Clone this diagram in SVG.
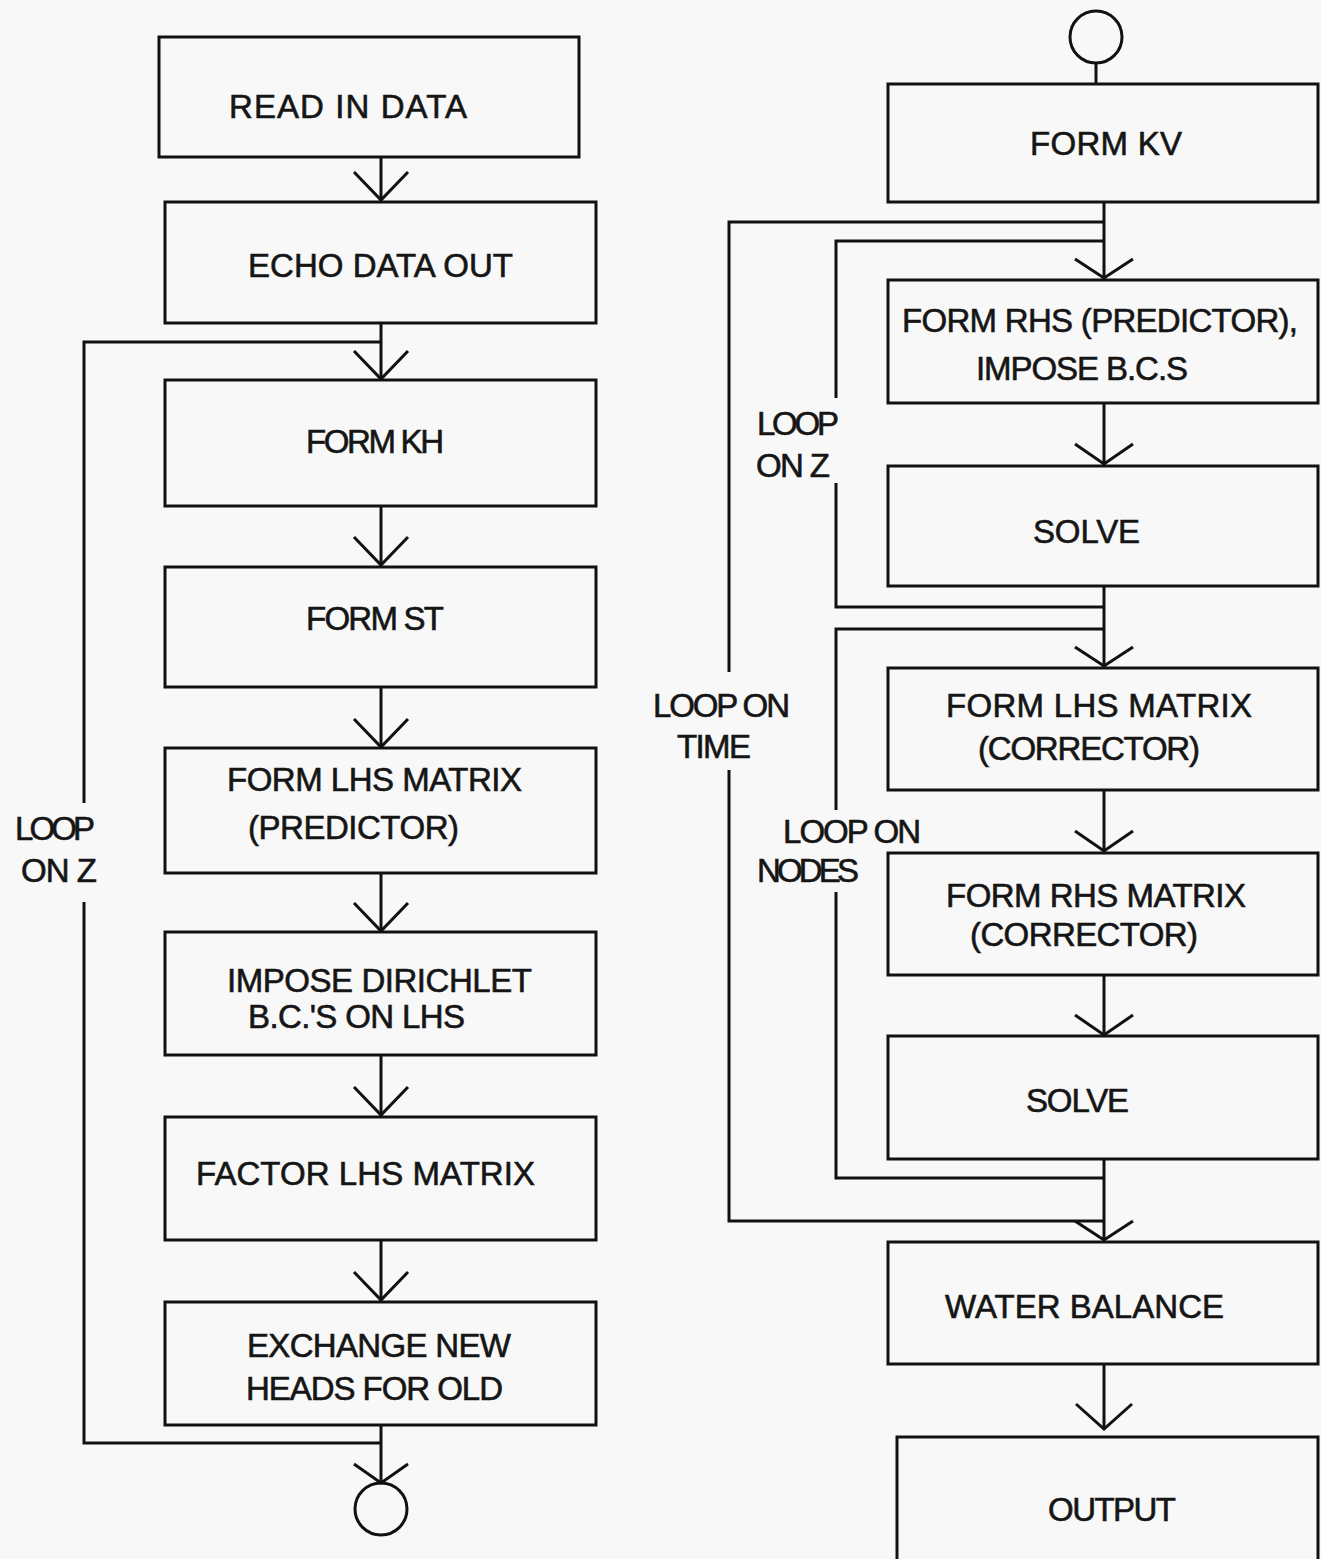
<svg xmlns="http://www.w3.org/2000/svg" width="1321" height="1559" viewBox="0 0 1321 1559">
<style>
.box{fill:none;stroke:#111;stroke-width:3}
.ln{fill:none;stroke:#111;stroke-width:3}
.ah{fill:none;stroke:#111;stroke-width:3;stroke-linejoin:miter}
text{font-family:"Liberation Sans",Arial,Helvetica,sans-serif;font-size:33px;fill:#151515;stroke:#151515;stroke-width:0.6}
</style>
<rect x="0" y="0" width="1321" height="1559" fill="#f8f8f8"/>
<g id="connectors">
<!-- left main flow -->
<line class="ln" x1="381" y1="157" x2="381" y2="201"/>
<polyline class="ah" points="354,172 381,200 408,172"/>
<line class="ln" x1="381" y1="323" x2="381" y2="380"/>
<polyline class="ah" points="354,351 381,379 408,351"/>
<line class="ln" x1="381" y1="506" x2="381" y2="566"/>
<polyline class="ah" points="354,537 381,565 408,537"/>
<line class="ln" x1="381" y1="687" x2="381" y2="748"/>
<polyline class="ah" points="354,719 381,747 408,719"/>
<line class="ln" x1="381" y1="873" x2="381" y2="932"/>
<polyline class="ah" points="354,903 381,931 408,903"/>
<line class="ln" x1="381" y1="1055" x2="381" y2="1116"/>
<polyline class="ah" points="354,1087 381,1115 408,1087"/>
<line class="ln" x1="381" y1="1240" x2="381" y2="1301"/>
<polyline class="ah" points="354,1272 381,1300 408,1272"/>
<line class="ln" x1="381" y1="1425" x2="381" y2="1483"/>
<polyline class="ah" points="354,1464 381,1483 408,1464"/>
<!-- left loop on Z -->
<polyline class="ln" points="381,342 84,342 84,803"/>
<polyline class="ln" points="84,902 84,1443 381,1443"/>
<!-- right main flow -->
<line class="ln" x1="1096" y1="63" x2="1096" y2="84"/>
<line class="ln" x1="1104" y1="202" x2="1104" y2="279"/>
<polyline class="ah" points="1075,259 1104,278 1133,259"/>
<line class="ln" x1="1104" y1="403" x2="1104" y2="465"/>
<polyline class="ah" points="1075,444 1104,464 1133,444"/>
<line class="ln" x1="1104" y1="586" x2="1104" y2="667"/>
<polyline class="ah" points="1075,647 1104,666 1133,647"/>
<line class="ln" x1="1104" y1="790" x2="1104" y2="852"/>
<polyline class="ah" points="1075,831 1104,851 1133,831"/>
<line class="ln" x1="1104" y1="975" x2="1104" y2="1036"/>
<polyline class="ah" points="1075,1015 1104,1035 1133,1015"/>
<line class="ln" x1="1104" y1="1159" x2="1104" y2="1241"/>
<polyline class="ah" points="1075,1221 1104,1240 1133,1221"/>
<line class="ln" x1="1104" y1="1364" x2="1104" y2="1429"/>
<polyline class="ah" points="1076,1404 1104,1429 1132,1404"/>
<!-- loop on time -->
<polyline class="ln" points="1104,222 729,222 729,672"/>
<polyline class="ln" points="729,770 729,1221 1104,1221"/>
<!-- loop on Z (right) -->
<polyline class="ln" points="1104,241 836,241 836,398"/>
<polyline class="ln" points="836,483 836,607 1104,607"/>
<!-- loop on nodes -->
<polyline class="ln" points="1104,629 836,629 836,810"/>
<polyline class="ln" points="836,892 836,1178 1104,1178"/>
</g>
<g id="loop-labels">
<text x="15" y="840" textLength="80">LOOP</text>
<text x="21" y="882" textLength="76">ON Z</text>
<text x="757" y="435" textLength="82">LOOP</text>
<text x="756" y="477" textLength="74">ON Z</text>
<text x="653" y="717" textLength="137">LOOP ON</text>
<text x="677" y="758" textLength="74">TIME</text>
<text x="783" y="843" textLength="138">LOOP ON</text>
<text x="757" y="882" textLength="102">NODES</text>
</g>
<g id="end-left"><circle class="box" cx="381" cy="1509" r="26"/></g>
<g id="start-right"><ellipse class="box" cx="1096" cy="37" rx="26" ry="26"/></g>
<g id="read-in-data"><rect class="box" x="159" y="37" width="420" height="120"/><text x="229" y="118" textLength="238">READ IN DATA</text></g>
<g id="echo-data-out"><rect class="box" x="165" y="202" width="431" height="121"/><text x="248" y="277" textLength="265">ECHO DATA OUT</text></g>
<g id="form-kh"><rect class="box" x="165" y="380" width="431" height="126"/><text x="306" y="453" textLength="138">FORM KH</text></g>
<g id="form-st"><rect class="box" x="165" y="567" width="431" height="120"/><text x="306" y="630" textLength="138">FORM ST</text></g>
<g id="form-lhs-predictor"><rect class="box" x="165" y="748" width="431" height="125"/><text x="227" y="791" textLength="295">FORM LHS MATRIX</text><text x="248" y="839" textLength="211">(PREDICTOR)</text></g>
<g id="impose-dirichlet"><rect class="box" x="165" y="932" width="431" height="123"/><text x="227" y="992" textLength="305">IMPOSE DIRICHLET</text><text x="248" y="1028" textLength="217">B.C.'S ON LHS</text></g>
<g id="factor-lhs"><rect class="box" x="165" y="1117" width="431" height="123"/><text x="196" y="1185" textLength="339">FACTOR LHS MATRIX</text></g>
<g id="exchange-heads"><rect class="box" x="165" y="1302" width="431" height="123"/><text x="247" y="1357" textLength="264">EXCHANGE NEW</text><text x="246" y="1400" textLength="257">HEADS FOR OLD</text></g>
<g id="form-kv"><rect class="box" x="888" y="84" width="430" height="118"/><text x="1030" y="155" textLength="152">FORM KV</text></g>
<g id="form-rhs-predictor"><rect class="box" x="888" y="280" width="430" height="123"/><text x="902" y="332" textLength="396">FORM RHS (PREDICTOR),</text><text x="976" y="380" textLength="212">IMPOSE B.C.S</text></g>
<g id="solve-1"><rect class="box" x="888" y="466" width="430" height="120"/><text x="1033" y="543" textLength="107">SOLVE</text></g>
<g id="form-lhs-corrector"><rect class="box" x="888" y="668" width="430" height="122"/><text x="946" y="717" textLength="306">FORM LHS MATRIX</text><text x="978" y="760" textLength="222">(CORRECTOR)</text></g>
<g id="form-rhs-corrector"><rect class="box" x="888" y="853" width="430" height="122"/><text x="946" y="907" textLength="300">FORM RHS MATRIX</text><text x="970" y="946" textLength="228">(CORRECTOR)</text></g>
<g id="solve-2"><rect class="box" x="888" y="1036" width="430" height="123"/><text x="1026" y="1112" textLength="103">SOLVE</text></g>
<g id="water-balance"><rect class="box" x="888" y="1242" width="430" height="122"/><text x="945" y="1318" textLength="279">WATER BALANCE</text></g>
<g id="output"><rect class="box" x="897" y="1437" width="421" height="140"/><text x="1048" y="1521" textLength="128">OUTPUT</text></g>
</svg>
